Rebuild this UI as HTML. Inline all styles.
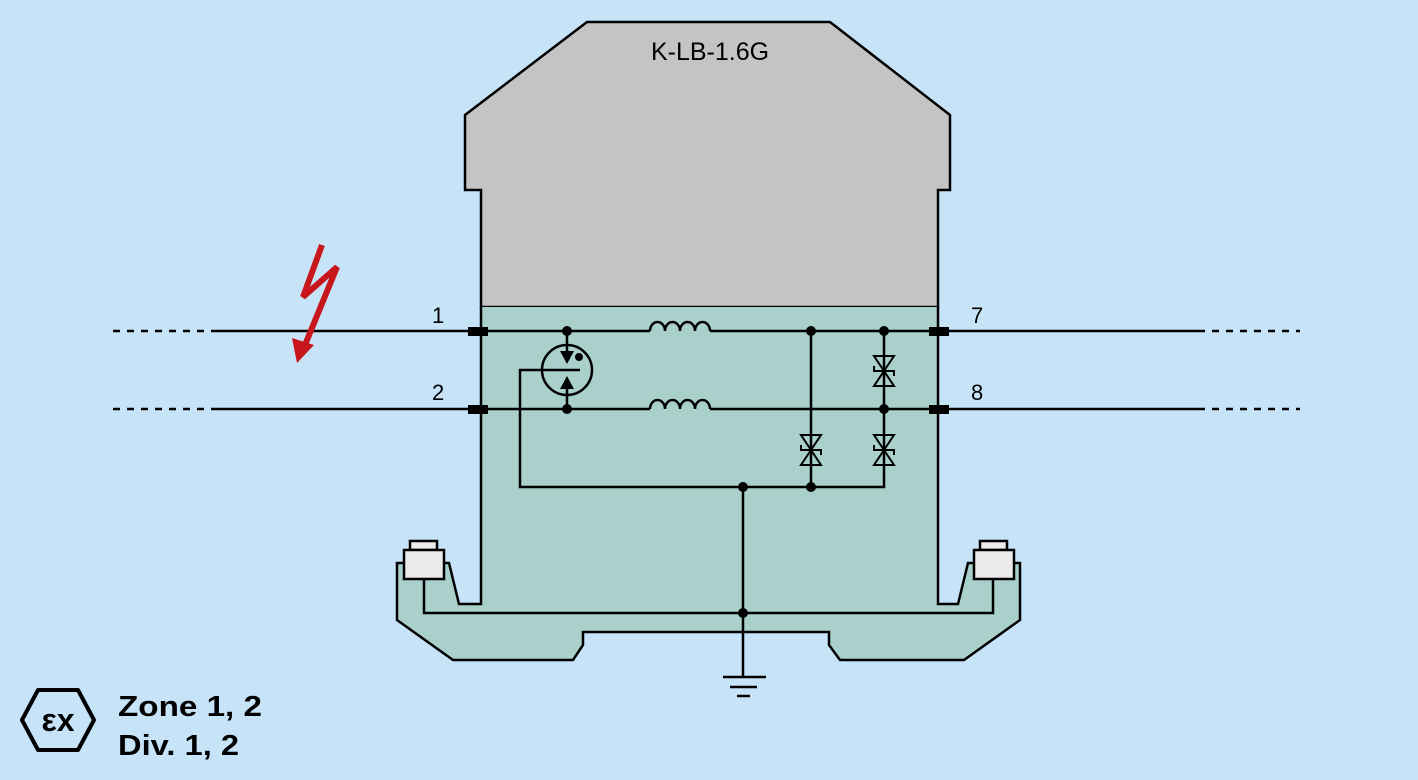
<!DOCTYPE html>
<html><head><style>
html,body{margin:0;padding:0;background:#c7e3f8;}
svg{display:block}
text{font-family:"Liberation Sans",Arial,sans-serif;}
</style></head><body>
<svg width="1418" height="780" viewBox="0 0 1418 780" xmlns="http://www.w3.org/2000/svg">
<rect width="1418" height="780" fill="#c7e3f8"/>
<polygon points="465,115 587,22 830,22 950,115 950,190 938,190 938,307 481,307 481,190 465,190" fill="#c4c4c4" stroke="#000" stroke-width="2.5"/>
<polygon points="481,307 938,307 938,604 958,604 968,563 1020,563 1020,620 964,660 840,660 829,645 829,632 583,632 583,645 573,660 453,660 397,620 397,563 449,563 459,604 481,604" fill="#a9d0cb"/>
<polyline points="481,307 481,604 459,604 449,563 397,563 397,620 453,660 573,660 583,645 583,632 829,632 829,645 840,660 964,660 1020,620 1020,563 968,563 958,604 938,604 938,307" fill="none" stroke="#000" stroke-width="2.5"/>
<g fill="#ebebeb" stroke="#000" stroke-width="2.5">
<rect x="410" y="541" width="27" height="9"/><rect x="404" y="550" width="40" height="29"/>
<rect x="980" y="541" width="27" height="9"/><rect x="974" y="550" width="40" height="29"/>
</g>
<g stroke="#000" stroke-width="2.5" fill="none">
<polyline points="424,579 424,613 993,613 993,579"/>
<line x1="743" y1="487" x2="743" y2="677"/>
<line x1="723" y1="677" x2="766" y2="677"/>
<line x1="730" y1="687" x2="757" y2="687"/>
<line x1="737" y1="696" x2="750" y2="696"/>
<line x1="215" y1="331" x2="650" y2="331"/><line x1="710" y1="331" x2="1198" y2="331"/>
<line x1="215" y1="409" x2="650" y2="409"/><line x1="710" y1="409" x2="1198" y2="409"/>
<line x1="113" y1="331" x2="215" y2="331" stroke-dasharray="7,7"/>
<line x1="113" y1="409" x2="215" y2="409" stroke-dasharray="7,7"/>
<line x1="1198" y1="331" x2="1300" y2="331" stroke-dasharray="7,7"/>
<line x1="1198" y1="409" x2="1300" y2="409" stroke-dasharray="7,7"/>
<path d="M650,331 a7.5,9 0 0 1 15,0 a7.5,9 0 0 1 15,0 a7.5,9 0 0 1 15,0 a7.5,9 0 0 1 15,0"/>
<path d="M650,409 a7.5,9 0 0 1 15,0 a7.5,9 0 0 1 15,0 a7.5,9 0 0 1 15,0 a7.5,9 0 0 1 15,0"/>
<circle cx="567" cy="370" r="25"/>
<line x1="567" y1="331" x2="567" y2="352"/>
<line x1="567" y1="409" x2="567" y2="388"/>
<polyline points="580,370 520,370 520,487 884,487 884,331"/>
<line x1="811" y1="331" x2="811" y2="487"/>
</g>
<polygon points="560,351 574,351 567,364" fill="#000"/>
<polygon points="560,389 574,389 567,376" fill="#000"/>
<circle cx="579" cy="357" r="4" fill="#000"/>
<g stroke="#000" stroke-width="2" fill="none">
<g transform="translate(811,450)"><polygon points="-10,-15 10,-15 0,0"/><polygon points="-10,15 10,15 0,0"/><polyline points="-10,-5 -10,0 10,0 10,5"/></g>
<g transform="translate(884,450)"><polygon points="-10,-15 10,-15 0,0"/><polygon points="-10,15 10,15 0,0"/><polyline points="-10,-5 -10,0 10,0 10,5"/></g>
<g transform="translate(884,371)"><polygon points="-10,-15 10,-15 0,0"/><polygon points="-10,15 10,15 0,0"/><polyline points="-10,-5 -10,0 10,0 10,5"/></g>
</g>
<g fill="#000">
<circle cx="567" cy="331" r="5"/><circle cx="567" cy="409" r="5"/>
<circle cx="811" cy="331" r="5"/><circle cx="884" cy="331" r="5"/>
<circle cx="884" cy="409" r="5"/><circle cx="811" cy="487" r="5"/>
<circle cx="743" cy="487" r="5"/><circle cx="743" cy="613" r="5"/>
<rect x="468" y="327" width="20" height="9"/><rect x="468" y="405" width="20" height="9"/>
<rect x="929" y="327" width="20" height="9"/><rect x="929" y="405" width="20" height="9"/>
</g>
<polyline points="322,245 303,297 337,267 305,345" fill="none" stroke="#c8161d" stroke-width="6"/>
<polygon points="297,363 292,338 314,345" fill="#c8161d"/>
<g font-size="22" fill="#000">
<text x="432" y="323">1</text><text x="432" y="400">2</text>
<text x="971" y="323">7</text><text x="971" y="400">8</text>
</g>
<text x="710" y="60" font-size="25" text-anchor="middle">K-LB-1.6G</text>
<polygon points="38,690 78,690 94,720 78,750 38,750 22,720" fill="none" stroke="#000" stroke-width="4" stroke-linejoin="round"/>
<text x="58" y="731" font-size="32" text-anchor="middle" font-family="Liberation Serif,serif" font-weight="bold">εx</text>
<g font-size="29" font-weight="bold" fill="#000">
<text x="118" y="716" textLength="144" lengthAdjust="spacingAndGlyphs">Zone 1, 2</text>
<text x="118" y="755" textLength="121" lengthAdjust="spacingAndGlyphs">Div. 1, 2</text>
</g>
</svg>
</body></html>
